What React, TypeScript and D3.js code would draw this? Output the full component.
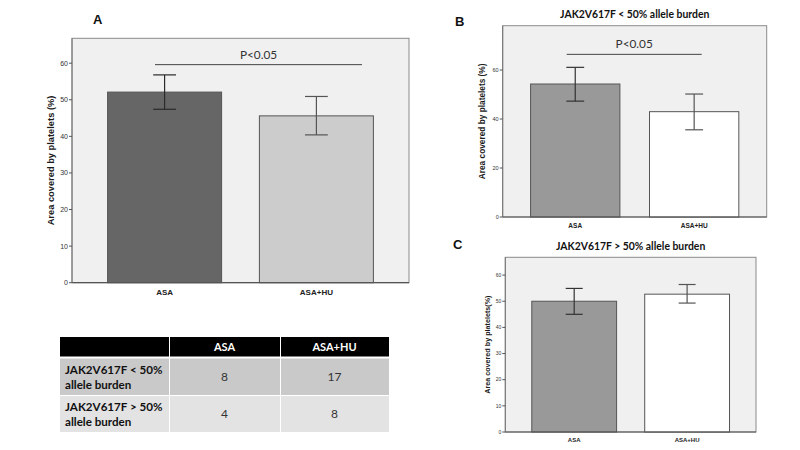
import React from "react";
import * as d3 from "d3";

const groups = ["ASA", "ASA+HU"];

const meansA = [52.1, 45.6];
const lowA = [47.4, 40.4];
const highA = [56.8, 50.9];
const ticksA = [0, 10, 20, 30, 40, 50, 60];

const meansB = [54.3, 43.0];
const lowB = [47.3, 35.6];
const highB = [61.1, 50.2];
const ticksB = [0, 20, 40, 60];

const meansC = [50.0, 52.7];
const lowC = [45.0, 49.3];
const highC = [54.9, 56.4];
const ticksC = [0, 10, 20, 30, 40, 50, 60];

const tableHeader = ["", "ASA", "ASA+HU"];
const rowLabels = [
  ["JAK2V617F < 50%", "allele burden"],
  ["JAK2V617F > 50%", "allele burden"],
];
const asaCounts = [8, 4];
const huCounts = [17, 8];

const SANS = "'Liberation Sans', Arial, sans-serif";
const CAL = "Lato, 'Open Sans', sans-serif";

type PanelProps = {
  letter: string;
  letterX: number;
  letterY: number;
  title?: string;
  titleY?: number;
  yLabel: string;
  yLabelX: number;
  left: number;
  right: number;
  top: number;
  bottom: number;
  yMax: number;
  ticks: number[];
  means: number[];
  lows: number[];
  highs: number[];
  fills: string[];
  errColors: string[];
  tickFont: number;
  xFont: number;
  yFont: number;
  pValue?: number;
  pText?: string;
  pFrom?: number;
  pTo?: number;
};

function Panel(p: PanelProps) {
  const x = d3
    .scaleBand<string>()
    .domain(groups)
    .range([p.left, p.right])
    .paddingInner(0.249)
    .paddingOuter(0.2345);
  const y = d3.scaleLinear().domain([0, p.yMax]).range([p.bottom, p.top]);
  const bw = x.bandwidth();
  const cap = bw * 0.2;
  const midY = (p.top + p.bottom) / 2;
  return (
    <g>
      <text x={p.letterX} y={p.letterY} fontFamily={SANS} fontWeight="bold" fontSize={13} fill="#111">
        {p.letter}
      </text>
      {p.title && (
        <text
          x={(p.left + p.right) / 2}
          y={p.titleY}
          textAnchor="middle"
          fontFamily={CAL}
          fontWeight="bold"
          fontSize={10.4}
          fill="#111"
        >
          {p.title}
        </text>
      )}
      <rect
        x={p.left}
        y={p.top}
        width={p.right - p.left}
        height={p.bottom - p.top}
        fill="#f0f0f0"
        stroke="#8a8a8a"
        strokeWidth={1}
      />
      {groups.map((g, i) => (
        <rect
          key={g}
          x={x(g)!}
          y={y(p.means[i])}
          width={bw}
          height={y(0) - y(p.means[i])}
          fill={p.fills[i]}
          stroke="#555"
          strokeWidth={1}
        />
      ))}
      {groups.map((g, i) => {
        const cx = x(g)! + bw / 2;
        return (
          <g key={"e" + g} stroke={p.errColors[i]} strokeWidth={1.2}>
            <line x1={cx} x2={cx} y1={y(p.lows[i])} y2={y(p.highs[i])} />
            <line x1={cx - cap / 2} x2={cx + cap / 2} y1={y(p.lows[i])} y2={y(p.lows[i])} />
            <line x1={cx - cap / 2} x2={cx + cap / 2} y1={y(p.highs[i])} y2={y(p.highs[i])} />
          </g>
        );
      })}
      {p.pValue !== undefined && (
        <g>
          <line
            x1={p.pFrom}
            x2={p.pTo}
            y1={y(p.pValue)}
            y2={y(p.pValue)}
            stroke="#444"
            strokeWidth={1}
          />
          <text
            x={((p.pFrom as number) + (p.pTo as number)) / 2}
            y={y(p.pValue) - 6}
            textAnchor="middle"
            fontFamily={CAL}
            fontSize={11.8}
            fill="#333"
          >
            {p.pText}
          </text>
        </g>
      )}
      <line x1={p.left} x2={p.right} y1={p.bottom} y2={p.bottom} stroke="#555" strokeWidth={1.2} />
      <line x1={p.left} x2={p.left} y1={p.top} y2={p.bottom} stroke="#777" strokeWidth={1} />
      {p.ticks.map((t) => (
        <g key={t}>
          <line x1={p.left - 3} x2={p.left} y1={y(t)} y2={y(t)} stroke="#555" strokeWidth={1} />
          <text
            x={p.left - 4}
            y={y(t)}
            dy="0.35em"
            textAnchor="end"
            fontFamily={SANS}
            fontSize={p.tickFont}
            fill="#333"
          >
            {t}
          </text>
        </g>
      ))}
      {groups.map((g) => (
        <text
          key={"x" + g}
          x={x(g)! + bw / 2}
          y={p.bottom + p.xFont + 4}
          textAnchor="middle"
          fontFamily={SANS}
          fontWeight="bold"
          fontSize={p.xFont}
          fill="#222"
        >
          {g}
        </text>
      ))}
      <text
        transform={`translate(${p.yLabelX},${midY}) rotate(-90)`}
        textAnchor="middle"
        fontFamily={SANS}
        fontWeight="bold"
        fontSize={p.yFont}
        fill="#1a1a1a"
      >
        {p.yLabel}
      </text>
    </g>
  );
}

function Table() {
  const colX = [60, 169, 280, 389];
  const rowY = [337, 357.5, 395, 432];
  const rowFill = ["#c9c9c9", "#e3e3e3"];
  const gap = 1;
  return (
    <g>
      {tableHeader.map((h, c) => (
        <g key={"h" + c}>
          <rect
            x={colX[c] + (c > 0 ? gap : 0)}
            y={rowY[0]}
            width={colX[c + 1] - colX[c] - (c > 0 ? gap : 0)}
            height={rowY[1] - rowY[0] - gap}
            fill="#000"
          />
          {h && (
            <text
              x={(colX[c] + colX[c + 1]) / 2}
              y={(rowY[0] + rowY[1]) / 2}
              dy="0.35em"
              textAnchor="middle"
              fontFamily={CAL}
              fontWeight="bold"
              fontSize={11}
              fill="#fff"
            >
              {h}
            </text>
          )}
        </g>
      ))}
      {rowLabels.map((lbl, r) => {
        const y0 = rowY[r + 1] + gap;
        const y1 = rowY[r + 2];
        const cy = (y0 + y1) / 2;
        const vals = [asaCounts[r], huCounts[r]];
        return (
          <g key={"r" + r}>
            {[0, 1, 2].map((c) => (
              <rect
                key={c}
                x={colX[c] + (c > 0 ? gap : 0)}
                y={y0}
                width={colX[c + 1] - colX[c] - (c > 0 ? gap : 0)}
                height={y1 - y0}
                fill={rowFill[r]}
              />
            ))}
            <text x={65} y={cy - 3} fontFamily={CAL} fontWeight="bold" fontSize={11.6} fill="#111">
              {lbl[0]}
            </text>
            <text x={65} y={cy + 12} fontFamily={CAL} fontWeight="bold" fontSize={11.6} fill="#111">
              {lbl[1]}
            </text>
            {vals.map((v, c) => (
              <text
                key={"v" + c}
                x={(colX[c + 1] + colX[c + 2]) / 2}
                y={cy}
                dy="0.35em"
                textAnchor="middle"
                fontFamily={CAL}
                fontSize={12}
                fill="#333"
              >
                {v}
              </text>
            ))}
          </g>
        );
      })}
    </g>
  );
}

export default function App() {
  return (
    <div style={{ position: "fixed", left: 0, top: 0, width: 800, height: 450, background: "#fff" }}>
      <svg width={800} height={450} viewBox="0 0 800 450">
        <rect x={0} y={0} width={800} height={450} fill="#fff" />
        <Panel
          letter="A"
          letterX={93}
          letterY={24}
          yLabel="Area covered by platelets (%)"
          yLabelX={54}
          left={72}
          right={409}
          top={38.3}
          bottom={282.7}
          yMax={66.8}
          ticks={ticksA}
          means={meansA}
          lows={lowA}
          highs={highA}
          fills={["#666666", "#cccccc"]}
          errColors={["#2a2a2a", "#555555"]}
          tickFont={7}
          xFont={8}
          yFont={9.3}
          pValue={59.6}
          pText="P<0.05"
          pFrom={155}
          pTo={362}
        />
        <Panel
          letter="B"
          letterX={455}
          letterY={26}
          title="JAK2V617F < 50% allele burden"
          titleY={18}
          yLabel="Area covered by platelets (%)"
          yLabelX={485}
          left={502.7}
          right={766.7}
          top={25.7}
          bottom={217}
          yMax={78.1}
          ticks={ticksB}
          means={meansB}
          lows={lowB}
          highs={highB}
          fills={["#999999", "#ffffff"]}
          errColors={["#333333", "#555555"]}
          tickFont={5.5}
          xFont={6.5}
          yFont={8.3}
          pValue={66.4}
          pText="P<0.05"
          pFrom={566.7}
          pTo={701.7}
        />
        <Panel
          letter="C"
          letterX={453}
          letterY={249}
          title="JAK2V617F > 50% allele burden"
          titleY={250}
          yLabel="Area covered by platelets(%)"
          yLabelX={490}
          left={505.3}
          right={756}
          top={257.3}
          bottom={432}
          yMax={66.8}
          ticks={ticksC}
          means={meansC}
          lows={lowC}
          highs={highC}
          fills={["#999999", "#ffffff"]}
          errColors={["#333333", "#555555"]}
          tickFont={5}
          xFont={6}
          yFont={7.2}
        />
        <Table />
      </svg>
    </div>
  );
}
